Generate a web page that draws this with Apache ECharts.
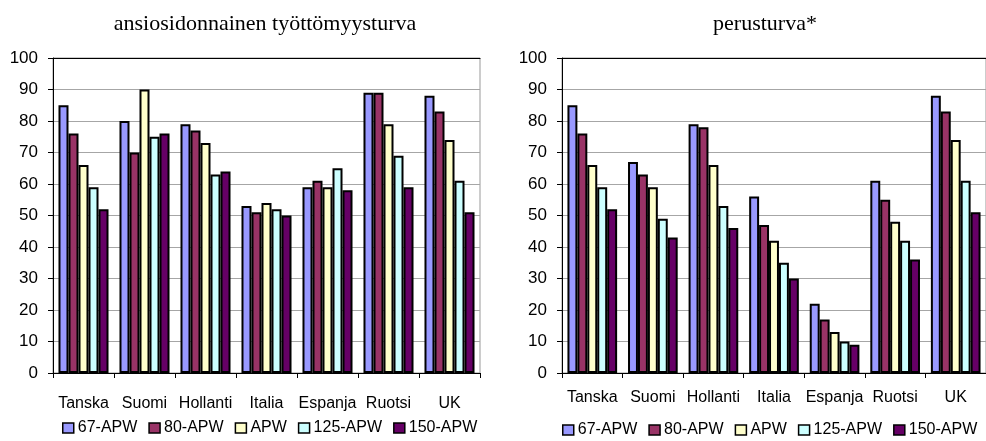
<!DOCTYPE html>
<html>
<head>
<meta charset="utf-8">
<script src="https://cdn.jsdelivr.net/npm/echarts@6/dist/echarts.min.js"></script>
<style>
    html, body { margin: 0; padding: 0; background: #fff; }
    #main { width: 986px; height: 441px; }
</style>
</head>
<body>
<div id="main"></div>
<script>
// maat ja sarjat
var categories = ['Tanska', 'Suomi', 'Hollanti', 'Italia', 'Espanja', 'Ruotsi', 'UK'];
var seriesNames = ['67-APW', '80-APW', 'APW', '125-APW', '150-APW'];
var yTicks = [0, 10, 20, 30, 40, 50, 60, 70, 80, 90, 100];

// ansiosidonnainen työttömyysturva
var ansio67 = [85, 80, 79, 53, 59, 89, 88];
var ansio80 = [76, 70, 77, 51, 61, 89, 83];
var ansioAPW = [66, 90, 73, 54, 59, 79, 74];
var ansio125 = [59, 75, 63, 52, 65, 69, 61];
var ansio150 = [52, 76, 64, 50, 58, 59, 51];

// perusturva*
var perus67 = [85, 67, 79, 56, 22, 61, 88];
var perus80 = [76, 63, 78, 47, 17, 55, 83];
var perusAPW = [66, 59, 66, 42, 13, 48, 74];
var perus125 = [59, 49, 53, 35, 10, 42, 61];
var perus150 = [52, 43, 46, 30, 9, 36, 51];

var colors = ['#9999FF', '#993366', '#FFFFCC', '#CCFFFF', '#660066'];
var font = 'Liberation Sans, Arial, sans-serif';
var serif = 'Liberation Serif, Times New Roman, serif';

var ansioData = [ansio67, ansio80, ansioAPW, ansio125, ansio150];
var perusData = [perus67, perus80, perusAPW, perus125, perus150];

function bottomAxis(grid, margin) {
    return {
        type: 'category',
        gridIndex: grid,
        data: categories,
        axisLine: { lineStyle: { color: '#000', width: 1 } },
        axisTick: { show: true, length: 5, lineStyle: { color: '#000' } },
        axisLabel: { interval: 0, margin: margin, color: '#000', fontSize: 16, fontFamily: font }
    };
}
// vain yläreunan musta viiva
function topAxis(grid) {
    return {
        type: 'category',
        gridIndex: grid,
        position: 'top',
        data: categories,
        axisLine: { lineStyle: { color: '#000', width: 1 } },
        axisTick: { show: false },
        axisLabel: { show: false }
    };
}
function valueAxis(grid) {
    return {
        type: 'value',
        gridIndex: grid,
        min: 0,
        max: yTicks[yTicks.length - 1],
        interval: yTicks[1] - yTicks[0],
        axisLine: { show: true, lineStyle: { color: '#000', width: 1 } },
        axisTick: { show: true, length: 5, lineStyle: { color: '#000' } },
        axisLabel: { margin: 15, color: '#000', fontSize: 17, fontFamily: font },
        splitLine: { show: true, lineStyle: { color: '#a6a6a6', width: 1 } }
    };
}
function legendAt(left, top) {
    return {
        data: seriesNames, left: left, top: top, width: 424, padding: 0,
        orient: 'horizontal',
        itemWidth: 11, itemHeight: 10, itemGap: 11, icon: 'rect',
        itemStyle: { borderColor: '#000', borderWidth: 1.5 },
        textStyle: { fontSize: 16, fontFamily: font, color: '#000', padding: [0, 0, 0, -1] }
    };
}

var series = [];
seriesNames.forEach(function (name, i) {
    series.push({
        name: name, type: 'bar', xAxisIndex: 0, yAxisIndex: 0,
        data: ansioData[i], barGap: '0%', barCategoryGap: '18%',
        itemStyle: { color: colors[i], borderColor: '#000', borderWidth: 2 }
    });
});
seriesNames.forEach(function (name, i) {
    series.push({
        name: name, type: 'bar', xAxisIndex: 1, yAxisIndex: 1,
        data: perusData[i], barGap: '0%', barCategoryGap: '18%',
        itemStyle: { color: colors[i], borderColor: '#000', borderWidth: 2 }
    });
});

var chart = echarts.init(document.getElementById('main'));
var option = {
    animation: false,
    backgroundColor: '#fff',
    title: [
        {
            text: 'ansiosidonnainen työttömyysturva',
            left: 260, top: 8, textAlign: 'center',
            textStyle: { fontFamily: serif, fontWeight: 'normal', fontSize: 22, color: '#000' }
        },
        {
            text: 'perusturva*',
            left: 760, top: 8, textAlign: 'center',
            textStyle: { fontFamily: serif, fontWeight: 'normal', fontSize: 22, color: '#000' }
        }
    ],
    legend: [legendAt(62, 420), legendAt(562, 422)],
    grid: [
        { left: 53, top: 58, width: 427, height: 315, show: true, borderColor: '#999', borderWidth: 1 },
        { left: 562, top: 58, width: 428, height: 315, show: true, borderColor: '#999', borderWidth: 1 }
    ],
    xAxis: [bottomAxis(0, 23), bottomAxis(1, 17), topAxis(0), topAxis(1)],
    yAxis: [valueAxis(0), valueAxis(1)],
    series: series
};
chart.setOption(option);
</script>
</body>
</html>
